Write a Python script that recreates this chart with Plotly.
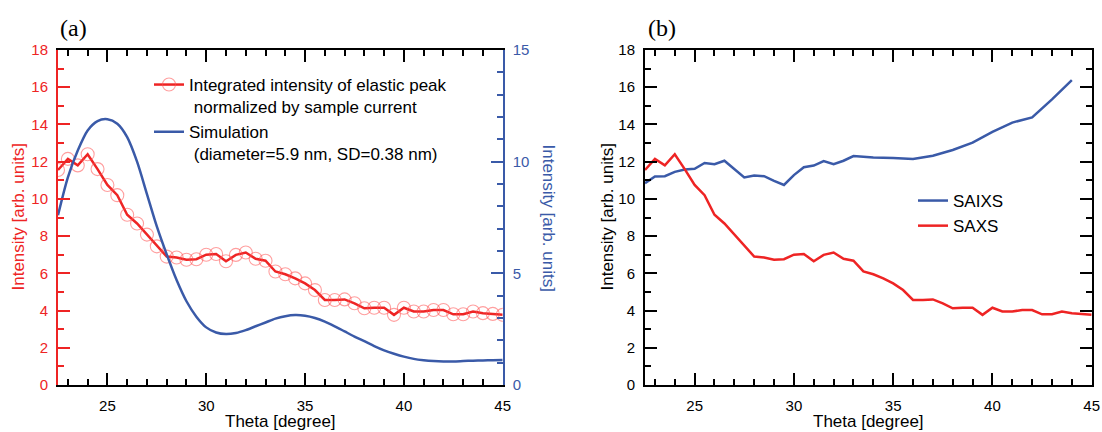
import plotly.graph_objects as go

# ---------------- data ----------------
theta = [22.5, 23.0, 23.5, 24.0, 24.5, 25.0, 25.5, 26.0, 26.5, 27.0, 27.5, 28.0,
         28.5, 29.0, 29.5, 30.0, 30.5, 31.0, 31.5, 32.0, 32.5, 33.0, 33.5, 34.0,
         34.5, 35.0, 35.5, 36.0, 36.5, 37.0, 37.5, 38.0, 38.5, 39.0, 39.5, 40.0,
         40.5, 41.0, 41.5, 42.0, 42.5, 43.0, 43.5, 44.0, 44.5, 45.0]

saxs = [11.55, 12.15, 11.8, 12.4, 11.6, 10.75, 10.2, 9.15, 8.68, 8.08, 7.45, 6.9,
        6.85, 6.73, 6.76, 7.0, 7.04, 6.65, 6.99, 7.12, 6.78, 6.68, 6.1, 5.95,
        5.73, 5.46, 5.1, 4.57, 4.57, 4.6, 4.39, 4.12, 4.15, 4.15, 3.77, 4.15,
        3.95, 3.95, 4.03, 4.03, 3.8, 3.8, 3.95, 3.86, 3.82, 3.77]

simulation = [7.6, 9.3, 10.5, 11.4, 11.82, 11.9, 11.7, 11.1, 10.0, 8.55, 7.1, 5.85,
              4.7, 3.75, 3.06, 2.58, 2.35, 2.28, 2.33, 2.46, 2.63, 2.8, 2.97, 3.08,
              3.13, 3.1, 3.0, 2.84, 2.63, 2.4, 2.17, 1.96, 1.74, 1.55, 1.4, 1.27,
              1.17, 1.11, 1.07, 1.05, 1.05, 1.07, 1.09, 1.1, 1.11, 1.12]

saixs_theta = [22.5, 23.0, 23.5, 24.0, 24.5, 25.0, 25.5, 26.0, 26.5, 27.0, 27.5,
               28.0, 28.5, 29.0, 29.5, 30.0, 30.5, 31.0, 31.5, 32.0, 32.5,
               33.0, 34.0, 35.0, 36.0, 37.0, 38.0, 39.0, 40.0, 41.0, 42.0, 43.0, 44.0]
saixs = [10.84, 11.2, 11.22, 11.45, 11.58, 11.62, 11.93, 11.86, 12.05, 11.6, 11.15,
         11.26, 11.22, 10.97, 10.75, 11.28, 11.7, 11.79, 12.03, 11.86, 12.05,
         12.3, 12.23, 12.2, 12.14, 12.32, 12.63, 13.02, 13.6, 14.1, 14.38, 15.35, 16.38]

legend_a_red = "Integrated intensity of elastic peak<br>\u00a0normalized by sample current"
legend_a_blue = "Simulation<br>\u00a0(diameter=5.9 nm, SD=0.38 nm)"

# ---------------- style ----------------
RED = "#ee2424"
BLUE = "#3a5aa8"
W, H = 1102, 432
FONT = "Liberation Sans, Arial, sans-serif"

def px(x):
    return x / W

def py(y):
    return 1 - y / H

xa_dom = [px(58), px(502.7)]
xb_dom = [px(645), px(1091.7)]
y_dom = [py(385), py(50)]

fig = go.Figure()

# panel (a)
fig.add_trace(go.Scatter(
    x=theta, y=saxs, mode="lines+markers", name=legend_a_red,
    line=dict(color=RED, width=2.5),
    marker=dict(symbol="circle-open", size=13, color="rgba(255,80,80,0.55)",
                line=dict(width=1.1, color="rgba(255,80,80,0.55)")),
    xaxis="x", yaxis="y", legend="legend"))
fig.add_trace(go.Scatter(
    x=theta, y=simulation, mode="lines", name=legend_a_blue,
    line=dict(color=BLUE, width=2.5, shape="spline", smoothing=0.8),
    xaxis="x", yaxis="y2", legend="legend"))

# panel (b)
fig.add_trace(go.Scatter(
    x=saixs_theta, y=saixs, mode="lines", name="SAIXS",
    line=dict(color=BLUE, width=2.5), xaxis="x2", yaxis="y3",
    legend="legend2", legendrank=1))
fig.add_trace(go.Scatter(
    x=theta, y=saxs, mode="lines", name="SAXS",
    line=dict(color=RED, width=2.5), xaxis="x2", yaxis="y3",
    legend="legend2", legendrank=2))

def xaxis_cfg(domain, anchor):
    return dict(domain=domain, anchor=anchor, range=[22.5, 45], automargin=False,
                tick0=0, dtick=5, ticks="inside", ticklen=12, tickwidth=2,
                tickcolor="black", showline=True, linecolor="black", linewidth=2,
                mirror="ticks", showgrid=False, zeroline=False,
                tickfont=dict(family=FONT, size=15, color="black"),
                ticklabelstandoff=6,
                minor=dict(dtick=1, tick0=0, ticks="inside", ticklen=6,
                           tickwidth=2, tickcolor="black", showgrid=False))

def yaxis_cfg(domain, anchor, rng, dtick, color, mirror):
    return dict(domain=domain, anchor=anchor, range=rng, tick0=0, dtick=dtick,
                automargin=False,
                ticks="inside", ticklen=12, tickwidth=2, tickcolor=color,
                showline=True, linecolor=color, linewidth=2, mirror=mirror,
                showgrid=False, zeroline=False,
                tickfont=dict(family=FONT, size=15, color=color),
                ticklabelstandoff=5,
                minor=dict(dtick=1, tick0=0, ticks="inside", ticklen=6,
                           tickwidth=2, tickcolor=color, showgrid=False))

fig.update_layout(
    width=W, height=H,
    margin=dict(l=0, r=0, t=0, b=0, autoexpand=False),
    paper_bgcolor="white", plot_bgcolor="white",
    font=dict(family=FONT, size=15, color="black"),
    xaxis=xaxis_cfg(xa_dom, "y"),
    yaxis=yaxis_cfg(y_dom, "x", [0, 18], 2, RED, False),
    yaxis2=dict(yaxis_cfg(y_dom, "x", [0, 15], 5, BLUE, False),
                overlaying="y", side="right"),
    xaxis2=xaxis_cfg(xb_dom, "y3"),
    yaxis3=yaxis_cfg(y_dom, "x2", [0, 18], 2, "black", "ticks"),
    legend=dict(x=px(149), y=py(67), xanchor="left", yanchor="top",
                bgcolor="white", borderwidth=0, valign="top",
                itemwidth=30, tracegroupgap=0,
                font=dict(family=FONT, size=17, color="black")),
    legend2=dict(x=px(913), y=py(183), xanchor="left", yanchor="top",
                 bgcolor="white", borderwidth=0, itemwidth=30,
                 font=dict(family=FONT, size=17, color="black")),
    showlegend=True,
)

ann = [
    dict(text="(a)", x=px(58), y=py(28), xanchor="left", yanchor="middle",
         font=dict(family="Liberation Serif, Times New Roman, serif", size=24, color="black")),
    dict(text="(b)", x=px(646), y=py(28), xanchor="left", yanchor="middle",
         font=dict(family="Liberation Serif, Times New Roman, serif", size=24, color="black")),
    dict(text="Theta [degree]", x=px(280), y=py(421), xanchor="center", yanchor="middle",
         font=dict(family=FONT, size=17, color="black")),
    dict(text="Theta [degree]", x=px(868), y=py(421), xanchor="center", yanchor="middle",
         font=dict(family=FONT, size=17, color="black")),
    dict(text="Intensity [arb. units]", x=px(18), y=py(217.5), textangle=-90,
         xanchor="center", yanchor="middle",
         font=dict(family=FONT, size=17, color=RED)),
    dict(text="Intensity [arb. units]", x=px(548), y=py(217.5), textangle=90,
         xanchor="center", yanchor="middle",
         font=dict(family=FONT, size=17, color=BLUE)),
    dict(text="Intensity [arb. units]", x=px(607), y=py(217.5), textangle=-90,
         xanchor="center", yanchor="middle",
         font=dict(family=FONT, size=17, color="black")),
]
for a in ann:
    a.update(xref="paper", yref="paper", showarrow=False)
fig.update_layout(annotations=ann)

fig.write_html("out.html")
